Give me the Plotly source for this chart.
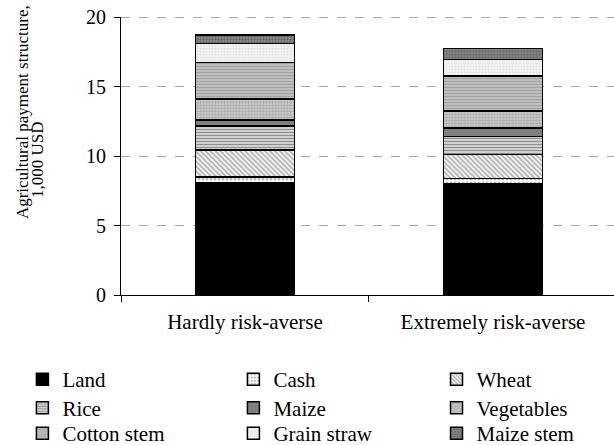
import plotly.graph_objects as go

# Farm risk-attitude groups on the x axis
groups = ["Hardly risk-averse", "Extremely risk-averse"]

# Payment components, bottom of the stack first (1,000 USD)
land = [8.10, 8.02]
cash = [0.40, 0.36]
wheat = [1.92, 1.74]
rice = [1.75, 1.30]
maize = [0.42, 0.60]
vegetables = [1.50, 1.22]
cotton_stem = [2.65, 2.50]
grain_straw = [1.35, 1.19]
maize_stem = [0.60, 0.80]

y_ticks = [0, 5, 10, 15, 20]

# (name, values, marker style)
series = [
    ("Land", land, dict(color="#000000")),
    ("Cash", cash, dict(color="#ffffff",
                        pattern=dict(shape=".", fgcolor="#7a7a7a", bgcolor="#ffffff", size=4, solidity=0.45))),
    ("Wheat", wheat, dict(color="#ffffff",
                          pattern=dict(shape="\\", fgcolor="#555555", bgcolor="#ffffff", size=3.5, solidity=0.5))),
    ("Rice", rice, dict(color="#dddddd",
                        pattern=dict(shape="-", fgcolor="#333333", bgcolor="#e6e6e6", size=3, solidity=0.5))),
    ("Maize", maize, dict(color="#808080")),
    ("Vegetables", vegetables, dict(color="#bbbbbb",
                                    pattern=dict(shape=".", fgcolor="#8a8a8a", bgcolor="#d0d0d0", size=3, solidity=0.55))),
    ("Cotton stem", cotton_stem, dict(color="#c0c0c0",
                                      pattern=dict(shape="-", fgcolor="#7a7a7a", bgcolor="#c8c8c8", size=3, solidity=0.5))),
    ("Grain straw", grain_straw, dict(color="#f2f2f2",
                                      pattern=dict(shape=".", fgcolor="#d6d6d6", bgcolor="#f6f6f6", size=3, solidity=0.5))),
    ("Maize stem", maize_stem, dict(color="#777777",
                                    pattern=dict(shape=".", fgcolor="#444444", bgcolor="#8c8c8c", size=3, solidity=0.5))),
]

FONT = "Liberation Serif"

# Legend grid: three columns, three rows, filled row by row
col_x = [-0.2, 0.228, 0.64]
row_y = [-0.2302, -0.3327, -0.4245]

fig = go.Figure()
legends = {}
for i, (name, vals, marker) in enumerate(series):
    key = "legend" if i == 0 else f"legend{i + 1}"
    marker = dict(marker)
    marker["line"] = dict(color="#000000", width=1.5)
    fig.add_trace(go.Bar(name=name, x=groups, y=vals, marker=marker, width=0.4, legend=key))
    legends[key] = dict(
        orientation="v",
        x=col_x[i % 3],
        xanchor="left",
        y=row_y[i // 3],
        yanchor="top",
        font=dict(family=FONT, size=21, color="black"),
        bgcolor="rgba(0,0,0,0)",
    )

fig.update_layout(
    width=614,
    height=445,
    barmode="stack",
    plot_bgcolor="white",
    paper_bgcolor="white",
    font=dict(family=FONT, size=20, color="black"),
    margin=dict(l=121, r=0, t=17, b=150, autoexpand=False),
    showlegend=True,
    xaxis=dict(
        range=[-0.5, 1.488],
        showline=True,
        linecolor="black",
        linewidth=1.2,
        ticks="outside",
        tickson="boundaries",
        ticklen=6,
        tickcolor="black",
        ticklabelstandoff=8,
        tickfont=dict(family=FONT, size=21),
        showgrid=False,
    ),
    yaxis=dict(
        range=[0, 20],
        tickvals=y_ticks,
        showline=True,
        linecolor="black",
        linewidth=1.2,
        ticks="outside",
        ticklen=6,
        tickcolor="black",
        ticklabelstandoff=4,
        tickfont=dict(family=FONT, size=20),
        showgrid=True,
        gridcolor="#a6a6a6",
        griddash="dash",
        gridwidth=1,
        zeroline=False,
    ),
    **legends,
)

# Darker dashed rule along the top of the value range
fig.add_shape(type="line", xref="paper", yref="y", x0=0, x1=1, y0=20, y1=20,
              line=dict(color="#555555", width=1.2, dash="dash"))

# Two-line axis title, lines aligned toward the bottom
fig.add_annotation(text="Agricultural payment structure,", textangle=-90,
                   xref="paper", yref="paper", x=-0.2008, y=0.658,
                   xanchor="center", yanchor="middle", showarrow=False,
                   font=dict(family=FONT, size=17))
fig.add_annotation(text="1,000 USD", textangle=-90,
                   xref="paper", yref="paper", x=-0.168, y=0.486,
                   xanchor="center", yanchor="middle", showarrow=False,
                   font=dict(family=FONT, size=17))

fig.write_html("out.html")
